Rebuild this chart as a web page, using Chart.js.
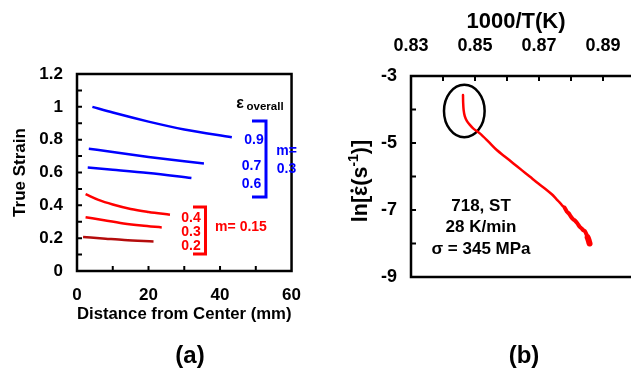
<!DOCTYPE html>
<html><head><meta charset="utf-8">
<script src="https://cdn.jsdelivr.net/npm/chart.js@4/dist/chart.umd.min.js"></script>
<style>
html,body{margin:0;padding:0;background:#fff;overflow:hidden;width:631px;height:368px;}
#wrap{position:relative;width:631px;height:368px;overflow:hidden;background:#fff;}
#ca{position:absolute;left:0;top:0;width:315px;height:368px;}
#cb{position:absolute;left:315px;top:0;width:330px;height:368px;}
</style></head><body>
<div id="wrap"><canvas id="ca" width="315" height="368"></canvas><canvas id="cb" width="330" height="368"></canvas></div>
<script>
// ---------- Panel (a) data ----------
const xTicksA = [0, 20, 40, 60];
const xMinorA = [10, 20, 30, 40, 50];
const yTicksA = [0, 0.2, 0.4, 0.6, 0.8, 1, 1.2];
const yMinorA = [0.1, 0.2, 0.3, 0.4, 0.5, 0.6, 0.7, 0.8, 0.9, 1, 1.1];

const dist09 = [4.3, 10, 20, 30, 43.3];
const strain09 = [1.0, 0.965, 0.91, 0.862, 0.815];
const dist07 = [3.3, 10, 20, 30, 35.5];
const strain07 = [0.745, 0.725, 0.695, 0.668, 0.655];
const dist06 = [3.0, 10, 20, 32];
const strain06 = [0.630, 0.617, 0.597, 0.566];
const dist04 = [2.4, 6, 10, 15, 20, 26];
const strain04 = [0.468, 0.433, 0.405, 0.378, 0.36, 0.343];
const dist03 = [2.4, 8, 13, 18, 23.7];
const strain03 = [0.328, 0.307, 0.29, 0.277, 0.265];
const dist02 = [1.7, 8, 13.2, 21.4];
const strain02 = [0.207, 0.197, 0.189, 0.180];

// ---------- Panel (b) data ----------
const xTicksB = [0.83, 0.85, 0.87, 0.89];
const xMinorB = [0.84, 0.85, 0.86, 0.87, 0.88, 0.89];
const yTicksB = [-9, -7, -5, -3];
const yMinorB = [-8, -7, -6, -5, -4];
const invT = [0.84625, 0.8463, 0.84645, 0.8468, 0.8474, 0.8484, 0.8495, 0.8516, 0.8542, 0.8568, 0.8594, 0.8620, 0.8646, 0.8672, 0.8698, 0.8724, 0.8740, 0.8755, 0.8765, 0.8772, 0.8780, 0.8787, 0.8793, 0.8800, 0.8807, 0.8813, 0.8820, 0.8827, 0.8833, 0.8838, 0.8843, 0.8848, 0.8852, 0.8855, 0.8858];
const lnRate = [-3.57, -3.80, -4.02, -4.20, -4.33, -4.46, -4.57, -4.72, -4.96, -5.21, -5.41, -5.61, -5.81, -6.01, -6.21, -6.40, -6.53, -6.68, -6.78, -6.86, -6.93, -7.05, -7.10, -7.20, -7.28, -7.32, -7.40, -7.50, -7.55, -7.60, -7.63, -7.72, -7.82, -7.90, -8.00];

const FAM = "'Liberation Sans', Arial, Helvetica, sans-serif";
const BLUE = '#0000ff', RED = '#ff0000', DARKRED = '#b40c0c';

function pts(xs, ys) { return xs.map((x, i) => ({x: x, y: ys[i]})); }
function lineDS(xs, ys, color, w) {
  return {data: pts(xs, ys), borderColor: color, borderWidth: w, pointRadius: 0, tension: 0.4, fill: false, cubicInterpolationMode: 'monotone'};
}
function txt(ctx, s, x, y, size, color, align) {
  ctx.save();
  ctx.font = 'bold ' + size + 'px ' + FAM;
  ctx.fillStyle = color; ctx.textAlign = align || 'center'; ctx.textBaseline = 'alphabetic';
  ctx.fillText(s, x, y);
  ctx.restore();
}
function frameAndTicks(chart, xs, ys, top) {
  const ctx = chart.ctx, a = chart.chartArea;
  const sx = chart.scales.x, sy = chart.scales.y;
  ctx.save();
  ctx.strokeStyle = '#000'; ctx.lineWidth = 2;
  ctx.beginPath();
  xs.forEach(v => {
    const p = sx.getPixelForValue(v);
    if (top) { ctx.moveTo(p, a.top); ctx.lineTo(p, a.top + 5); }
    else { ctx.moveTo(p, a.bottom); ctx.lineTo(p, a.bottom - 5); }
  });
  ys.forEach(v => { const p = sy.getPixelForValue(v); ctx.moveTo(a.left, p); ctx.lineTo(a.left + 5, p); });
  ctx.stroke();
  ctx.lineWidth = 2.5;
  ctx.strokeRect(a.left, a.top, a.right - a.left, a.bottom - a.top);
  ctx.restore();
}

const tickFontA = {family: FAM, weight: 'bold', size: 17};
const noGrid = {display: false, drawTicks: false, tickLength: 0};

const plugA = {
  id: 'plugA',
  afterDraw(chart) {
    const ctx = chart.ctx;
    frameAndTicks(chart, xMinorA, yMinorA, false);
    // epsilon overall
    txt(ctx, 'ε', 240, 107.5, 16, '#000');
    txt(ctx, 'overall', 246.5, 110, 11.5, '#000', 'left');
    // blue labels
    txt(ctx, '0.9', 254, 143.5, 14, BLUE);
    txt(ctx, '0.7', 251.5, 169.5, 14, BLUE);
    txt(ctx, '0.6', 251.5, 187.5, 14, BLUE);
    txt(ctx, 'm=', 286.5, 154.5, 14, BLUE);
    txt(ctx, '0.3', 286.5, 173, 14, BLUE);
    // red labels
    txt(ctx, '0.4', 191, 221.5, 14, RED);
    txt(ctx, '0.3', 191, 236, 14, RED);
    txt(ctx, '0.2', 191, 249.5, 14, RED);
    txt(ctx, 'm= 0.15', 241, 231, 14, RED);
    // brackets
    ctx.save(); ctx.lineWidth = 3; ctx.lineJoin = 'miter';
    ctx.strokeStyle = BLUE; ctx.beginPath();
    ctx.moveTo(252, 121); ctx.lineTo(266, 121); ctx.lineTo(266, 197); ctx.lineTo(252, 197); ctx.stroke();
    ctx.strokeStyle = RED; ctx.beginPath();
    ctx.moveTo(193, 207); ctx.lineTo(205.5, 207); ctx.lineTo(205.5, 254); ctx.lineTo(193, 254); ctx.stroke();
    ctx.restore();
    txt(ctx, '(a)', 190, 363, 24, '#000');
  }
};

new Chart(document.getElementById('ca'), {
  type: 'line',
  data: {datasets: [
    lineDS(dist09, strain09, BLUE, 2.5), lineDS(dist07, strain07, BLUE, 2.5), lineDS(dist06, strain06, BLUE, 2.5),
    lineDS(dist04, strain04, RED, 2.5), lineDS(dist03, strain03, RED, 2.5), lineDS(dist02, strain02, DARKRED, 2.5)
  ]},
  options: {
    responsive: false, animation: false, devicePixelRatio: 1,
    layout: {padding: {top: 74, right: 13, left: 0, bottom: 0}},
    plugins: {legend: {display: false}, tooltip: {enabled: false}},
    scales: {
      x: {type: 'linear', min: 0, max: 60,
        afterBuildTicks: s => { s.ticks = xTicksA.map(v => ({value: v})); },
        afterFit: s => { s.height = 97; },
        grid: noGrid, border: {display: false},
        ticks: {color: '#000', font: tickFontA, padding: 14, maxRotation: 0, callback: v => String(v)},
        title: {display: true, text: 'Distance from Center (mm)', color: '#000', font: {family: FAM, weight: 'bold', size: 17}, padding: {top: 0, bottom: 43}}
      },
      y: {type: 'linear', min: 0, max: 1.2,
        afterBuildTicks: s => { s.ticks = yTicksA.map(v => ({value: v})); },
        afterFit: s => { s.width = 77; },
        grid: noGrid, border: {display: false},
        ticks: {color: '#000', font: tickFontA, padding: 14, callback: v => String(+(+v).toFixed(1))},
        title: {display: true, text: 'True Strain', color: '#000', font: {family: FAM, weight: 'bold', size: 17}, padding: {top: 10, bottom: 0}}
      }
    }
  },
  plugins: [plugA]
});

// ---------- Panel (b) ----------
const plugB = {
  id: 'plugB',
  beforeDatasetsDraw(chart) {
    const ctx = chart.ctx, sx = chart.scales.x, sy = chart.scales.y;
    ctx.save();
    ctx.strokeStyle = '#000'; ctx.lineWidth = 2.5;
    const cx = sx.getPixelForValue(0.84666), cy = sy.getPixelForValue(-4.045);
    const rx = sx.getPixelForValue(0.84666 + 0.00635) - cx, ry = sy.getPixelForValue(-4.045 - 0.785) - cy;
    ctx.beginPath(); ctx.ellipse(cx, cy, rx, ry, 0, 0, Math.PI * 2); ctx.stroke();
    ctx.restore();
  },
  afterDraw(chart) {
    const ctx = chart.ctx;
    frameAndTicks(chart, xMinorB, yMinorB, true);
    const ox = 315;
    txt(ctx, '718, ST', 481 - ox, 210.5, 17, '#000');
    txt(ctx, '28 K/min', 481 - ox, 232, 17, '#000');
    txt(ctx, 'σ = 345 MPa', 481 - ox, 254, 17, '#000');
    txt(ctx, '1000/T(K)', 516 - ox, 27.5, 22, '#000');
    txt(ctx, '(b)', 524 - ox, 363, 24, '#000');
    // rotated y title: ln[ε̇(s^-1)]
    ctx.save();
    ctx.translate(366.5 - ox, 181);
    ctx.rotate(-Math.PI / 2);
    ctx.fillStyle = '#000'; ctx.textBaseline = 'alphabetic'; ctx.textAlign = 'left';
    const big = 'bold 21.5px ' + FAM, small = 'bold 14px ' + FAM;
    ctx.font = big;
    const w1 = ctx.measureText('ln[').width, we = ctx.measureText('ε').width, w2 = ctx.measureText('(s').width, w4 = ctx.measureText(')]').width;
    ctx.font = small;
    const w3 = ctx.measureText('-1').width;
    let x = -(w1 + we + w2 + w3 + w4) / 2;
    ctx.font = big; ctx.fillText('ln[', x, 0); x += w1;
    ctx.fillText('ε', x, 0);
    ctx.beginPath(); ctx.arc(x + we / 2, -14.5, 1.7, 0, Math.PI * 2); ctx.fill();
    x += we;
    ctx.fillText('(s', x, 0); x += w2;
    ctx.font = small; ctx.fillText('-1', x, -8.5); x += w3;
    ctx.font = big; ctx.fillText(')]', x, 0);
    ctx.restore();
  }
};

const tickFontB = {family: FAM, weight: 'bold', size: 18};

new Chart(document.getElementById('cb'), {
  type: 'line',
  data: {datasets: [{
    data: pts(invT, lnRate), borderColor: RED, borderWidth: 2.5, pointRadius: 0, tension: 0.3, fill: false,
    borderCapStyle: 'round', borderJoinStyle: 'round',
    segment: {borderWidth: c => (c.p0.parsed.x > 0.8775 ? (c.p0.parsed.x > 0.8848 ? 6 : 4) : 2.5)}
  }]},
  options: {
    responsive: false, animation: false, devicePixelRatio: 1,
    layout: {padding: {top: 0, right: 10, left: 0, bottom: 91}},
    plugins: {legend: {display: false}, tooltip: {enabled: false}},
    scales: {
      x: {type: 'linear', position: 'top', min: 0.83, max: 0.90,
        afterBuildTicks: s => { s.ticks = xTicksB.map(v => ({value: v})); },
        afterFit: s => { s.height = 76; },
        grid: noGrid, border: {display: false},
        ticks: {color: '#000', font: tickFontB, padding: 19, maxRotation: 0, callback: v => (+v).toFixed(2)}
      },
      y: {type: 'linear', min: -9, max: -3,
        afterBuildTicks: s => { s.ticks = yTicksB.map(v => ({value: v})); },
        afterFit: s => { s.width = 96; },
        grid: noGrid, border: {display: false},
        ticks: {color: '#000', font: tickFontB, padding: 14, callback: v => String(v)}
      }
    }
  },
  plugins: [plugB]
});
</script>
</body></html>
